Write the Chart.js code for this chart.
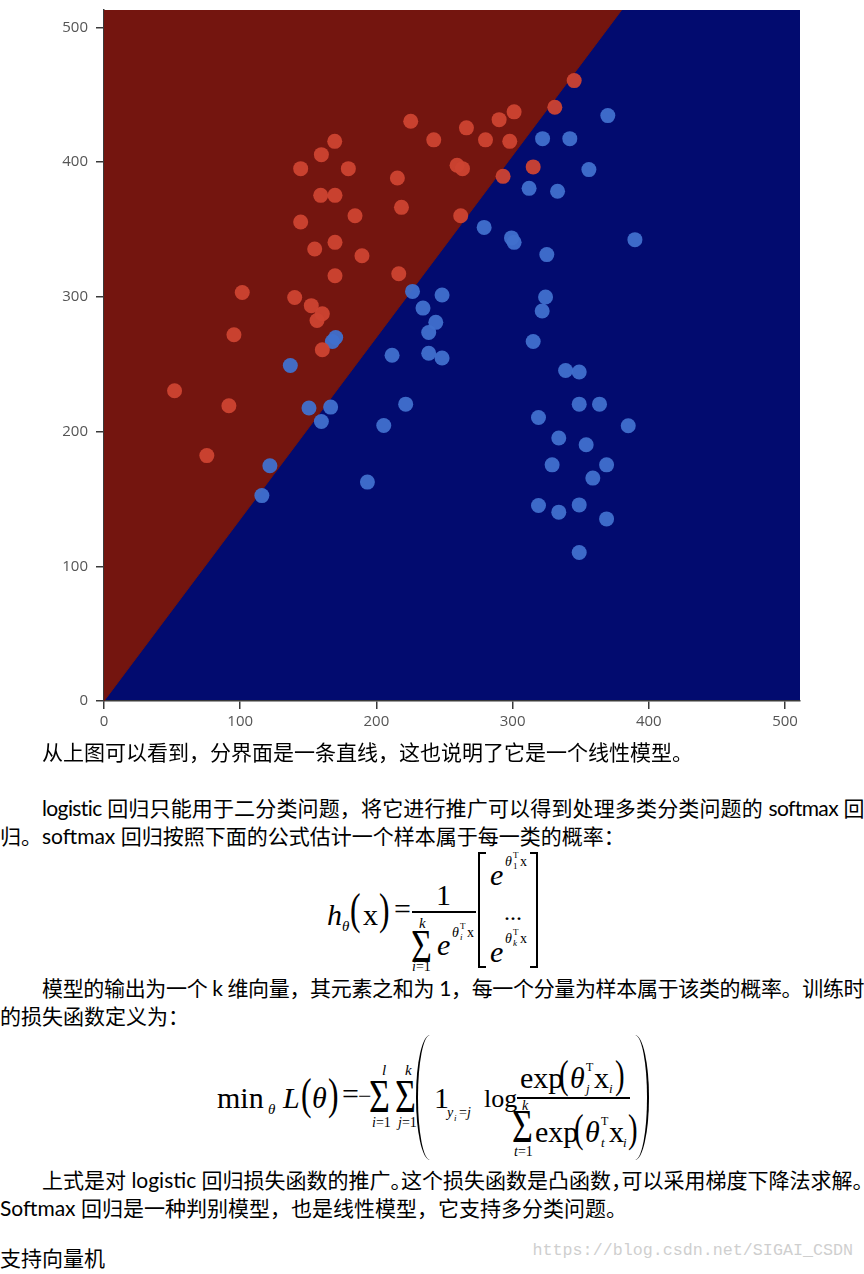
<!DOCTYPE html>
<html>
<head>
<meta charset="utf-8">
<script src="https://cdn.jsdelivr.net/npm/chart.js@4.4.0/dist/chart.umd.min.js"></script>
<style>
  body { margin: 0; background: #fff; width: 864px; height: 1274px; position: relative; overflow: hidden; }
  #chartBox { position: absolute; left: 0; top: 0; width: 864px; height: 745px; }
  .p { position: absolute; left: 0; font-family: Lato, "Noto Sans CJK SC", sans-serif; font-size: 21px; line-height: 28px; color: #000; white-space: nowrap; }
  .full { text-align: justify; text-align-last: justify; letter-spacing: -0.6px; }
  .m { position: absolute; font-family: "Liberation Serif", serif; line-height: 1; white-space: nowrap; color: #000; }
  .i { font-style: italic; }
  .par { transform: scaleX(0.72); transform-origin: left top; }
  .bar { position: absolute; background: #000; }
  .sig { transform: scaleX(0.78); transform-origin: left top; }
  .brl { position: absolute; border-left: 2px solid #000; border-top: 2px solid #000; border-bottom: 2px solid #000; width: 6px; }
  .brr { position: absolute; border-right: 2px solid #000; border-top: 2px solid #000; border-bottom: 2px solid #000; width: 6px; }
  .pl { position: absolute; border-left: 2px solid #000; width: 14px; border-radius: 14px 0 0 14px / 62px 0 0 62px; }
  .pr { position: absolute; border-right: 2px solid #000; width: 14px; border-radius: 0 14px 14px 0 / 0 62px 62px 0; }
  #mark { position: absolute; right: 11px; top: 1241px; font-family: "Liberation Mono", monospace; font-size: 16.7px; color: #cfcfcf; }
</style>
</head>
<body>
<div id="chartBox"><canvas id="scatterCanvas"></canvas></div>

<div class="p" style="top:738px;text-indent:42px;">从上图可以看到，分界面是一条直线，这也说明了它是一个线性模型。</div>

<div class="p full" style="top:794px;width:864px;text-indent:42px;">logistic 回归只能用于二分类问题，将它进行推广可以得到处理多类分类问题的 softmax 回</div>
<div class="p" style="top:822px;">归。softmax 回归按照下面的公式估计一个样本属于每一类的概率：</div>

<!-- h_theta(x) formula -->
<span class="m i" style="left:327px;top:900px;font-size:30px;">h</span>
<span class="m i" style="left:342px;top:919px;font-size:15px;">θ</span>
<span class="m par" style="left:350px;top:888px;font-size:44px;">(</span>
<span class="m" style="left:363px;top:900px;font-size:30px;">x</span>
<span class="m par" style="left:379px;top:888px;font-size:44px;">)</span>
<span class="m" style="left:394px;top:894px;font-size:30px;">=</span>
<span class="m" style="left:436px;top:880px;font-size:30px;">1</span>
<div class="bar" style="left:412px;top:911px;width:64px;height:1.5px;"></div>
<span class="m i" style="left:419px;top:916px;font-size:15px;">k</span>
<span class="m sig" style="left:411px;top:924px;font-size:46px;">Σ</span>
<span class="m" style="left:412px;top:960px;font-size:14px;"><i>i</i>=1</span>
<span class="m i" style="left:437px;top:930px;font-size:30px;">e</span>
<span class="m i" style="left:452px;top:926px;font-size:14px;">θ</span>
<span class="m i" style="left:460px;top:933px;font-size:9px;">i</span>
<span class="m" style="left:460px;top:922px;font-size:9px;">T</span>
<span class="m" style="left:467px;top:926px;font-size:14px;">x</span>
<div class="brl" style="left:478px;top:852px;height:112px;"></div>
<div class="brr" style="left:530px;top:852px;height:112px;"></div>
<span class="m i" style="left:490px;top:860px;font-size:30px;">e</span>
<span class="m i" style="left:505px;top:855px;font-size:14px;">θ</span>
<span class="m" style="left:513px;top:862px;font-size:9px;">1</span>
<span class="m" style="left:513px;top:851px;font-size:9px;">T</span>
<span class="m" style="left:520px;top:855px;font-size:14px;">x</span>
<span class="m" style="left:504px;top:900px;font-size:24px;">...</span>
<span class="m i" style="left:490px;top:937px;font-size:30px;">e</span>
<span class="m i" style="left:505px;top:932px;font-size:14px;">θ</span>
<span class="m i" style="left:513px;top:939px;font-size:9px;">k</span>
<span class="m" style="left:513px;top:928px;font-size:9px;">T</span>
<span class="m" style="left:520px;top:932px;font-size:14px;">x</span>

<div class="p full" style="top:974px;width:864px;text-indent:42px;">模型的输出为一个 k 维向量，其元素之和为 1，每一个分量为样本属于该类的概率。训练时</div>
<div class="p" style="top:1002px;">的损失函数定义为：</div>

<!-- loss formula -->
<span class="m" style="left:217px;top:1083px;font-size:30px;">min</span>
<span class="m i" style="left:268px;top:1102px;font-size:15px;">θ</span>
<span class="m i" style="left:283px;top:1083px;font-size:30px;">L</span>
<span class="m par" style="left:301px;top:1073px;font-size:44px;">(</span>
<span class="m i" style="left:312px;top:1083px;font-size:30px;">θ</span>
<span class="m par" style="left:328px;top:1073px;font-size:44px;">)</span>
<span class="m" style="left:342px;top:1079px;font-size:30px;">=</span>
<span class="m" style="left:358px;top:1084px;font-size:24px;">−</span>
<span class="m i" style="left:382px;top:1063px;font-size:15px;">l</span>
<span class="m sig" style="left:369px;top:1074px;font-size:46px;">Σ</span>
<span class="m" style="left:372px;top:1116px;font-size:14px;"><i>i</i>=1</span>
<span class="m i" style="left:405px;top:1063px;font-size:15px;">k</span>
<span class="m sig" style="left:395px;top:1074px;font-size:46px;">Σ</span>
<span class="m" style="left:398px;top:1116px;font-size:14px;"><i>j</i>=1</span>
<div class="pl" style="left:416px;top:1035px;height:125px;"></div>
<span class="m" style="left:434px;top:1083px;font-size:30px;">1</span>
<span class="m i" style="left:447px;top:1106px;font-size:14px;">y</span>
<span class="m i" style="left:454px;top:1114px;font-size:9px;">i</span>
<span class="m" style="left:459px;top:1106px;font-size:14px;">=<i>j</i></span>
<span class="m" style="left:484px;top:1086px;font-size:26px;">log</span>
<span class="m" style="left:520px;top:1063px;font-size:30px;">exp</span>
<span class="m par" style="left:559px;top:1055px;font-size:40px;">(</span>
<span class="m i" style="left:570px;top:1063px;font-size:30px;">θ</span>
<span class="m i" style="left:586px;top:1082px;font-size:13px;">j</span>
<span class="m" style="left:586px;top:1061px;font-size:12px;">T</span>
<span class="m" style="left:594px;top:1063px;font-size:30px;">x</span>
<span class="m i" style="left:609px;top:1082px;font-size:13px;">i</span>
<span class="m par" style="left:615px;top:1055px;font-size:40px;">)</span>
<div class="bar" style="left:517px;top:1097px;width:113px;height:1.5px;"></div>
<span class="m i" style="left:522px;top:1099px;font-size:14px;">k</span>
<span class="m sig" style="left:512px;top:1104px;font-size:46px;">Σ</span>
<span class="m" style="left:514px;top:1145px;font-size:14px;"><i>t</i>=1</span>
<span class="m" style="left:535px;top:1117px;font-size:30px;">exp</span>
<span class="m par" style="left:574px;top:1109px;font-size:40px;">(</span>
<span class="m i" style="left:585px;top:1117px;font-size:30px;">θ</span>
<span class="m i" style="left:601px;top:1136px;font-size:13px;">t</span>
<span class="m" style="left:601px;top:1115px;font-size:12px;">T</span>
<span class="m" style="left:609px;top:1117px;font-size:30px;">x</span>
<span class="m i" style="left:623px;top:1136px;font-size:13px;">i</span>
<span class="m par" style="left:628px;top:1109px;font-size:40px;">)</span>
<div class="pr" style="left:633px;top:1035px;height:125px;"></div>

<div class="p full" style="top:1166px;width:858px;text-indent:42px;letter-spacing:0;font-feature-settings:'halt';">上式是对 logistic 回归损失函数的推广。这个损失函数是凸函数，可以采用梯度下降法求解。</div>
<div class="p" style="top:1194px;">Softmax 回归是一种判别模型，也是线性模型，它支持多分类问题。</div>

<div class="p" style="top:1244px;">支持向量机</div>
<div id="mark">https://blog.csdn.net/SIGAI_CSDN</div>

<script>
// axes
const xMin = 0, xMax = 511;
const yMin = 0, yMax = 513;
const tickStep = 100;

// decision boundary (y = 1.35 x), from origin to the top edge
const boundaryX = [0, 380];
const boundaryY = [0, 513];

// class 1 samples (red)
const redX = [169.4, 159.6, 144.4, 179.4, 159.1, 169.6, 184.3, 144.4, 154.7, 169.6,
              189.4, 169.6, 101.5, 140.0, 152.2, 160.3, 156.4, 95.4, 160.3, 51.8,
              91.7, 75.5, 345.2, 331.0, 225.2, 301.1, 290.1, 266.1, 242.1, 280.1,
              297.9, 259.2, 263.2, 215.4, 293.0, 315.1, 218.4, 261.9, 216.4];
const redY = [415.5, 405.6, 395.2, 395.2, 375.4, 375.4, 360.3, 355.6, 335.6, 340.5,
              330.6, 315.7, 303.3, 299.6, 293.5, 287.5, 282.5, 271.9, 260.8, 230.3,
              219.2, 182.2, 460.6, 440.8, 430.4, 437.4, 431.6, 425.5, 416.6, 416.6,
              415.5, 397.7, 395.2, 388.3, 389.5, 396.5, 366.5, 360.3, 317.2];

// class 2 samples (blue)
const blueX = [369.9, 322.0, 342.0, 356.0, 312.1, 333.0, 279.1, 299.2, 301.1, 389.8,
               325.1, 226.5, 248.2, 234.2, 324.2, 321.7, 243.6, 238.4, 315.1, 211.5,
               238.4, 248.2, 170.1, 167.7, 136.8, 150.5, 166.4, 159.6, 205.4, 121.8,
               115.9, 193.4, 221.5, 338.9, 348.9, 348.9, 363.8, 319.0, 384.9, 333.9,
               354.0, 329.0, 369.0, 358.9, 319.0, 333.9, 348.9, 369.0, 348.9];
const blueY = [434.6, 417.5, 417.5, 394.5, 380.6, 378.4, 351.6, 343.8, 340.5, 342.5,
               331.4, 304.1, 301.4, 291.7, 299.9, 289.5, 281.1, 273.6, 266.9, 256.7,
               258.2, 254.6, 269.9, 266.9, 249.1, 217.5, 218.2, 207.5, 204.5, 174.6,
               152.5, 162.5, 220.4, 245.4, 244.2, 220.4, 220.4, 210.5, 204.3, 195.2,
               190.2, 175.3, 175.3, 165.5, 145.1, 140.2, 145.6, 135.2, 110.2];

const toPoints = (xs, ys) => xs.map((x, i) => ({ x: x, y: ys[i] }));

// fond bleu de la zone de tracé (classe 2)
const areaBg = {
    id: 'areaBg',
    beforeDraw(chart) {
        const a = chart.chartArea;
        const ctx = chart.ctx;
        ctx.save();
        ctx.fillStyle = '#020b6f';
        ctx.fillRect(a.left, a.top, a.right - a.left, a.bottom - a.top);
        ctx.restore();
    }
};

const axisStyle = (fitKey, fitSize) => ({
    type: 'linear',
    z: 1,
    grid: { drawOnChartArea: false, drawTicks: true, tickLength: 8, color: '#3a3a3a', lineWidth: 1.5 },
    border: { color: '#3a3a3a', width: 1.5 },
    ticks: {
        stepSize: tickStep,
        includeBounds: false,
        color: '#555',
        font: { family: 'Open Sans', size: 15 },
        padding: fitKey === 'width' ? 8 : 4
    },
    // taille fixe de l'axe, sans marge pour les étiquettes du bout
    afterFit: (s) => {
        s[fitKey] = fitSize;
        s.paddingTop = 0;
        s.paddingBottom = 0;
        s.paddingLeft = 0;
        s.paddingRight = 0;
    }
});

const scatterCanvas = document.getElementById('scatterCanvas');
const scatterChart = new Chart(scatterCanvas, {
    type: 'scatter',
    data: {
        datasets: [
            {
                label: 'class 1',
                data: toPoints(redX, redY),
                backgroundColor: 'rgba(206, 67, 50, 0.95)',
                borderWidth: 0,
                pointRadius: 7.5,
                pointHoverRadius: 7.5
            },
            {
                label: 'class 2',
                data: toPoints(blueX, blueY),
                backgroundColor: 'rgba(64, 112, 206, 0.95)',
                borderWidth: 0,
                pointRadius: 7.5,
                pointHoverRadius: 7.5
            },
            {
                // zone de la classe 1, au-dessus de la frontière
                type: 'line',
                label: 'boundary',
                data: toPoints(boundaryX, boundaryY),
                fill: 'end',
                backgroundColor: '#74150f',
                borderColor: '#74150f',
                borderWidth: 1,
                pointRadius: 0,
                tension: 0
            }
        ]
    },
    options: {
        responsive: true,
        maintainAspectRatio: false,
        animation: false,
        layout: { padding: { left: 0, top: 10, right: 64, bottom: 0 } },
        plugins: { legend: { display: false }, tooltip: { enabled: false } },
        scales: {
            x: Object.assign(axisStyle('height', 44), { min: xMin, max: xMax }),
            y: Object.assign(axisStyle('width', 104), { min: yMin, max: yMax })
        }
    },
    plugins: [areaBg]
});
</script>
</body>
</html>
